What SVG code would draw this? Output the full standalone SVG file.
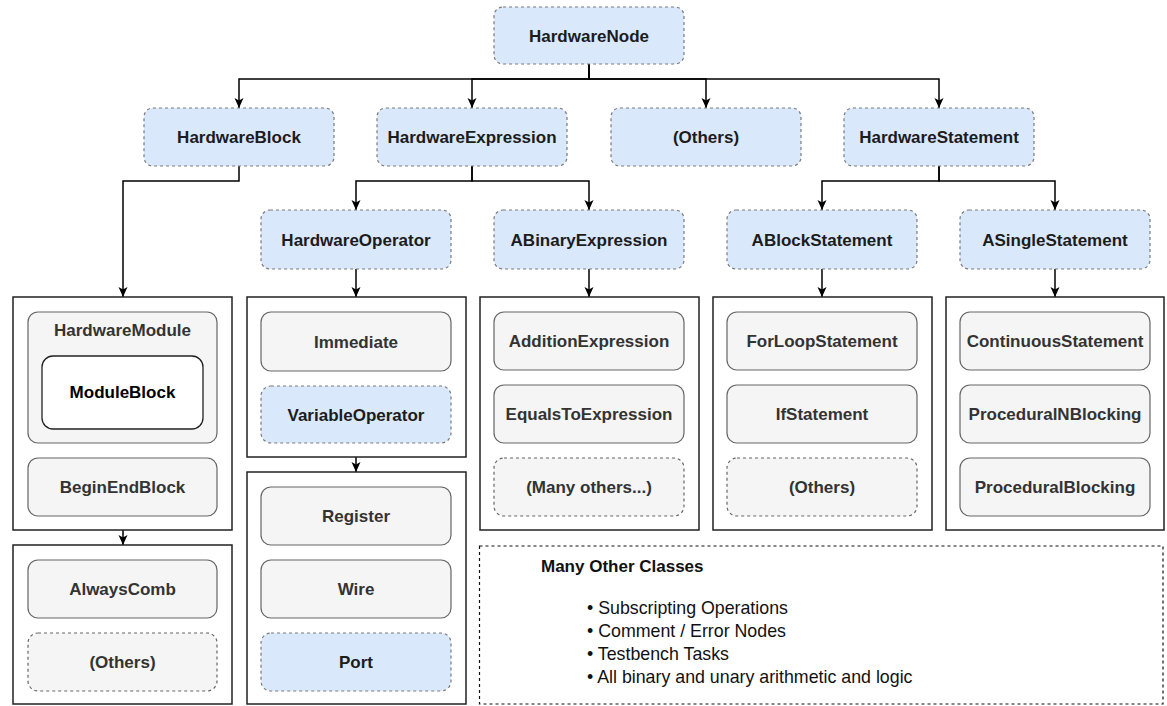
<svg xmlns="http://www.w3.org/2000/svg" width="1167" height="706" viewBox="0 0 1167 706">
<style>
text{font-family:"Liberation Sans",Arial,sans-serif;font-weight:bold;font-size:17px;text-anchor:middle}
.blue{fill:#dae8fc;stroke:#7a7a7a;stroke-width:1.2;stroke-dasharray:3 3}
.gray{fill:#f5f5f5;stroke:#666;stroke-width:1.2}
.grayd{fill:#f5f5f5;stroke:#666;stroke-width:1.2;stroke-dasharray:3 3}
.cont{fill:#ffffff;stroke:#222;stroke-width:1.5}
.tb{fill:#1c1c1c}
.tg{fill:#333333}
.conn path{fill:none;stroke:#000;stroke-width:1.5;marker-end:url(#arr)}
.note{font-weight:normal;text-anchor:start;fill:#111;font-size:17.8px}
</style>
<defs>
<marker id="arr" markerUnits="userSpaceOnUse" markerWidth="11" markerHeight="10" refX="10" refY="5" orient="auto">
<path d="M0,0.5 L10,5 L0,9.5 L2.5,5 z" fill="#000"/>
</marker>
</defs>
<rect width="1167" height="706" fill="#fff"/>

<g class="conn">
<path d="M589,64 V79 H239 V108"/>
<path d="M589,64 V79 H472 V108"/>
<path d="M589,64 V79 H706 V108"/>
<path d="M589,64 V79 H939 V108"/>
<path d="M239,166 V181 H123 V297"/>
<path d="M472,166 V181 H356 V210"/>
<path d="M472,166 V181 H589 V210"/>
<path d="M939,166 V181 H822 V210"/>
<path d="M939,166 V181 H1055 V210"/>
<path d="M356,269 V297"/>
<path d="M589,269 V297"/>
<path d="M822,269 V297"/>
<path d="M1055,269 V297"/>
<path d="M123,530 V545"/>
<path d="M356,457 V472"/>
</g>

<g id="HardwareNode"><rect class="blue" x="494" y="7" width="190" height="57" rx="9"/><text class="tb" x="589" y="41.5">HardwareNode</text></g>

<g id="HardwareBlock"><rect class="blue" x="144" y="108" width="190" height="58" rx="9"/><text class="tb" x="239" y="143">HardwareBlock</text></g>
<g id="HardwareExpression"><rect class="blue" x="377" y="108" width="190" height="58" rx="9"/><text class="tb" x="472" y="143">HardwareExpression</text></g>
<g id="Others1"><rect class="blue" x="611" y="108" width="190" height="58" rx="9"/><text class="tb" x="706" y="143">(Others)</text></g>
<g id="HardwareStatement"><rect class="blue" x="844" y="108" width="190" height="58" rx="9"/><text class="tb" x="939" y="143">HardwareStatement</text></g>

<g id="HardwareOperator"><rect class="blue" x="261" y="210" width="190" height="59" rx="9"/><text class="tb" x="356" y="245.5">HardwareOperator</text></g>
<g id="ABinaryExpression"><rect class="blue" x="494" y="210" width="190" height="59" rx="9"/><text class="tb" x="589" y="245.5">ABinaryExpression</text></g>
<g id="ABlockStatement"><rect class="blue" x="727" y="210" width="190" height="59" rx="9"/><text class="tb" x="822" y="245.5">ABlockStatement</text></g>
<g id="ASingleStatement"><rect class="blue" x="960" y="210" width="190" height="59" rx="9"/><text class="tb" x="1055" y="245.5">ASingleStatement</text></g>

<g id="BlockContainer">
<rect class="cont" x="13" y="297" width="219" height="233"/>
<g id="HardwareModule"><rect class="gray" x="28" y="312" width="189" height="131" rx="10"/><text class="tg" x="122.5" y="336">HardwareModule</text></g>
<g id="ModuleBlock"><rect x="42" y="356" width="161" height="73" rx="11" fill="#fff" stroke="#222" stroke-width="1.3"/><text fill="#000" x="122.5" y="398">ModuleBlock</text></g>
<g id="BeginEndBlock"><rect class="gray" x="28" y="458" width="189" height="58" rx="10"/><text class="tg" x="122.5" y="493">BeginEndBlock</text></g>
</g>

<g id="BlockContainer2">
<rect class="cont" x="13" y="545" width="219" height="159"/>
<g id="AlwaysComb"><rect class="gray" x="28" y="560" width="189" height="58" rx="10"/><text class="tg" x="122.5" y="595">AlwaysComb</text></g>
<g id="Others2"><rect class="grayd" x="28" y="633" width="189" height="58" rx="10"/><text class="tg" x="122.5" y="668">(Others)</text></g>
</g>

<g id="OperatorContainer">
<rect class="cont" x="247" y="297" width="219" height="160"/>
<g id="Immediate"><rect class="gray" x="261" y="312" width="190" height="59" rx="10"/><text class="tg" x="356" y="347.5">Immediate</text></g>
<g id="VariableOperator"><rect class="blue" x="261" y="386" width="190" height="57" rx="10"/><text class="tb" x="356" y="420.5">VariableOperator</text></g>
</g>

<g id="VariableContainer">
<rect class="cont" x="247" y="472" width="219" height="232"/>
<g id="Register"><rect class="gray" x="261" y="487" width="190" height="58" rx="10"/><text class="tg" x="356" y="522">Register</text></g>
<g id="Wire"><rect class="gray" x="261" y="560" width="190" height="58" rx="10"/><text class="tg" x="356" y="595">Wire</text></g>
<g id="Port"><rect class="blue" x="261" y="633" width="190" height="58" rx="10"/><text class="tb" x="356" y="668">Port</text></g>
</g>

<g id="BinaryContainer">
<rect class="cont" x="480" y="297" width="219" height="233"/>
<g id="AdditionExpression"><rect class="gray" x="494" y="312" width="190" height="58" rx="10"/><text class="tg" x="589" y="347">AdditionExpression</text></g>
<g id="EqualsToExpression"><rect class="gray" x="494" y="385" width="190" height="58" rx="10"/><text class="tg" x="589" y="420">EqualsToExpression</text></g>
<g id="ManyOthers"><rect class="grayd" x="494" y="458" width="190" height="58" rx="10"/><text class="tg" x="589" y="493">(Many others...)</text></g>
</g>

<g id="BlockStmtContainer">
<rect class="cont" x="713" y="297" width="219" height="233"/>
<g id="ForLoopStatement"><rect class="gray" x="727" y="312" width="190" height="58" rx="10"/><text class="tg" x="822" y="347">ForLoopStatement</text></g>
<g id="IfStatement"><rect class="gray" x="727" y="385" width="190" height="58" rx="10"/><text class="tg" x="822" y="420">IfStatement</text></g>
<g id="Others3"><rect class="grayd" x="727" y="458" width="190" height="58" rx="10"/><text class="tg" x="822" y="493">(Others)</text></g>
</g>

<g id="SingleStmtContainer">
<rect class="cont" x="946" y="297" width="218" height="233"/>
<g id="ContinuousStatement"><rect class="gray" x="960" y="312" width="190" height="58" rx="10"/><text class="tg" x="1055" y="347">ContinuousStatement</text></g>
<g id="ProceduralNBlocking"><rect class="gray" x="960" y="385" width="190" height="58" rx="10"/><text class="tg" x="1055" y="420">ProceduralNBlocking</text></g>
<g id="ProceduralBlocking"><rect class="gray" x="960" y="458" width="190" height="58" rx="10"/><text class="tg" x="1055" y="493">ProceduralBlocking</text></g>
</g>

<g id="ManyOtherClasses">
<rect x="479.5" y="546" width="683.5" height="158" fill="#fff" stroke="#111" stroke-width="1.2" stroke-dasharray="3 3"/>
<text x="541" y="572" style="text-anchor:start" fill="#111">Many Other Classes</text>
<text class="note" x="587" y="614">• Subscripting Operations</text>
<text class="note" x="587" y="637">• Comment / Error Nodes</text>
<text class="note" x="587" y="660">• Testbench Tasks</text>
<text class="note" x="587" y="683">• All binary and unary arithmetic and logic</text>
</g>
</svg>
